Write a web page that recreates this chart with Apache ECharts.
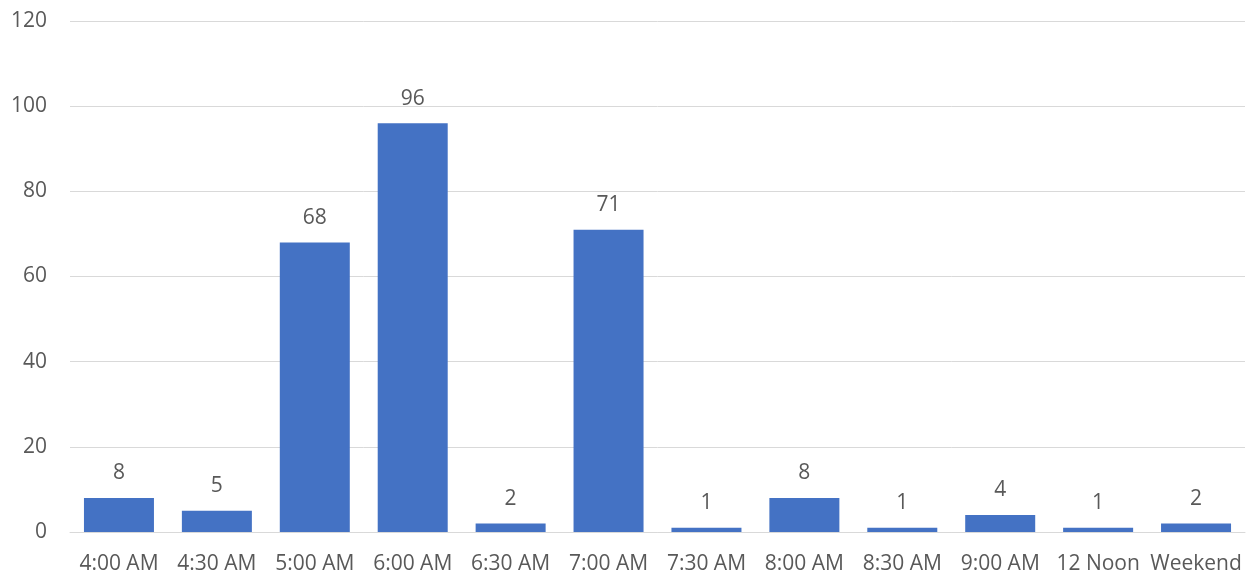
<!DOCTYPE html>
<html>
<head>
<meta charset="utf-8">
<script src="https://cdn.jsdelivr.net/npm/echarts@6/dist/echarts.min.js"></script>
<style>
  html, body { margin: 0; padding: 0; background: #fff; }
  #chart { width: 1253px; height: 576px; }
</style>
</head>
<body>
<div id="chart"></div>
<script>
// Departure time slots and number of responses in each
const categories = ['4:00 AM', '4:30 AM', '5:00 AM', '6:00 AM', '6:30 AM', '7:00 AM',
                    '7:30 AM', '8:00 AM', '8:30 AM', '9:00 AM', '12 Noon', 'Weekend'];
const counts = [8, 5, 68, 96, 2, 71, 1, 8, 1, 4, 1, 2];
const yTicks = [0, 20, 40, 60, 80, 100, 120];

const textColor = '#595959';
const fontFamily = '"Open Sans", "Noto Sans", sans-serif';
const fontSize = 21;

const chart = echarts.init(document.getElementById('chart'));
chart.setOption({
  animation: false,
  textStyle: { fontFamily: fontFamily },
  grid: { left: 70, right: 8, top: 21, bottom: 44, containLabel: false },
  xAxis: {
    type: 'category',
    data: categories,
    axisLine: { show: true, lineStyle: { color: '#d9d9d9', width: 1 } },
    axisTick: { show: false },
    axisLabel: { color: textColor, fontSize: fontSize, margin: 22, interval: 0, fontFamily: fontFamily }
  },
  yAxis: {
    type: 'value',
    min: yTicks[0],
    max: yTicks[yTicks.length - 1],
    interval: 20,
    axisLine: { show: false },
    axisTick: { show: false },
    splitLine: { lineStyle: { color: '#d9d9d9', width: 1 } },
    axisLabel: { color: textColor, fontSize: fontSize, margin: 23, fontFamily: fontFamily }
  },
  series: [{
    type: 'bar',
    data: counts,
    barWidth: 70,
    itemStyle: { color: '#4472C4' },
    label: {
      show: true,
      position: 'top',
      distance: 14,
      color: textColor,
      fontSize: fontSize,
      fontFamily: fontFamily
    }
  }]
});
</script>
</body>
</html>
